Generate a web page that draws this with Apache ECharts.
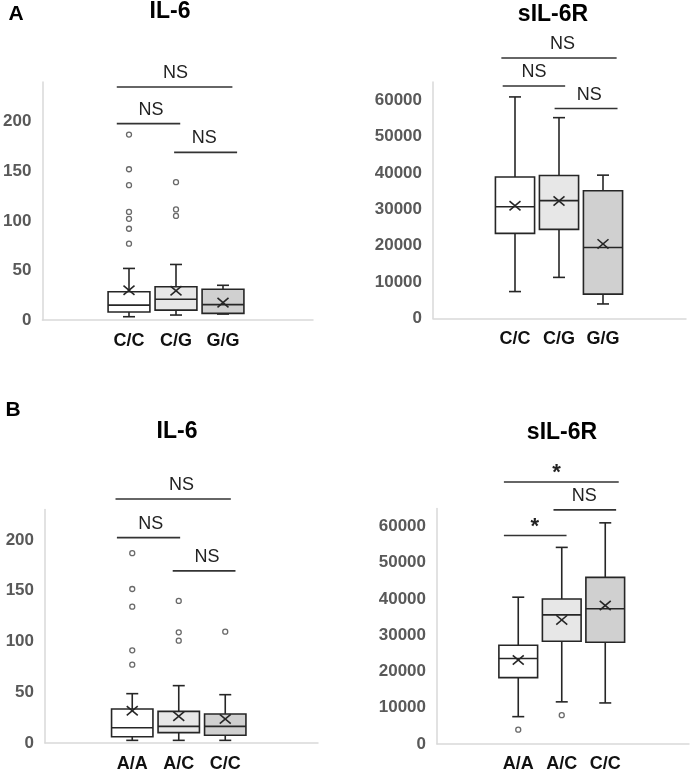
<!DOCTYPE html>
<html><head><meta charset="utf-8">
<script src="https://cdn.jsdelivr.net/npm/echarts@6/dist/echarts.min.js"></script>
<style>html,body{margin:0;padding:0;background:#fff}#c{width:692px;height:773px}</style>
</head><body><div id="c"></div>
<script>
// ---------- data ----------
const catsA = ['C/C', 'C/G', 'G/G'];
const catsB = ['A/A', 'A/C', 'C/C'];
// box rows: [lower whisker, Q1, median, Q3, upper whisker]
const aIl6Box = [[3.3, 8, 15, 28.5, 52], [5, 10, 21, 33.5, 56], [6, 6.7, 15.5, 31, 35]];
const aIl6Mean = [30, 29.5, 17.5];
const aIl6Out = [[0, 187], [0, 152], [0, 136], [0, 109], [0, 102], [0, 92], [0, 77], [1, 139], [1, 111.5], [1, 105]];
const aSilBox = [[7400, 23400, 30700, 38900, 60900], [11300, 24500, 32400, 39300, 55200], [4000, 6700, 19500, 35100, 39400]];
const aSilMean = [31000, 32300, 20500];
const aSilOut = [];
const bIl6Box = [[2.6, 6.2, 15, 33.5, 48.6], [2.6, 10.2, 16.4, 31.2, 56.5], [2.6, 7.6, 16.4, 28.6, 47.6]];
const bIl6Mean = [31.8, 26.3, 23.6];
const bIl6Out = [[0, 187], [0, 151.7], [0, 134.3], [0, 91.3], [0, 77.2], [1, 139.9], [1, 109], [1, 100.8], [2, 109.7]];
const bSilBox = [[7300, 18100, 23400, 27100, 40400], [11400, 28200, 35500, 39900, 54200], [11100, 27900, 37200, 45900, 61000]];
const bSilMean = [23000, 34100, 38100];
const bSilOut = [[0, 3700], [1, 7700]];
// significance brackets: [from (category units), to, level (data units), label position, label]
const aIl6Sig = [[-0.26, 2.2, 235, 0.99, 'NS'], [-0.26, 1.09, 198, 0.47, 'NS'], [0.96, 2.3, 169, 1.6, 'NS']];
const aSilSig = [[-0.31, 2.31, 71600, 1.08, 'NS'], [-0.28, 1.14, 63900, 0.43, 'NS'], [0.9, 2.33, 57700, 1.69, 'NS']];
const bIl6Sig = [[-0.36, 2.12, 240.4, 1.06, 'NS'], [-0.33, 1.03, 202.3, 0.40, 'NS'], [0.87, 2.22, 169.5, 1.61, 'NS']];
const bSilSig = [[-0.33, 2.31, 72300, 0.88, '*'], [0.81, 2.25, 64600, 1.52, 'NS'], [-0.33, 1.11, 57500, 0.38, '*']];
const titles = ['IL-6', 'sIL-6R', 'IL-6', 'sIL-6R'];
const panelLetters = ['A', 'B'];

// ---------- layout / style ----------
const FONT = '"Liberation Sans", Arial, sans-serif';
const fills = ['#ffffff', '#e7e7e7', '#d0d0d0'];
const panels = [
  { frame: { left: 42, top: 82, width: 271, height: 238 }, dataLeft: 105.5, dataWidth: 141, max: 240, interval: 50,
    cats: catsA, box: aIl6Box, mean: aIl6Mean, out: aIl6Out, sig: aIl6Sig, title: [170, 12] },
  { frame: { left: 433, top: 82, width: 253, height: 236.5 }, dataLeft: 493, dataWidth: 132, max: 65000, interval: 10000,
    cats: catsA, box: aSilBox, mean: aSilMean, out: aSilOut, sig: aSilSig, title: [553, 15] },
  { frame: { left: 45, top: 509.5, width: 273, height: 233.5 }, dataLeft: 109, dataWidth: 139.5, max: 230, interval: 50,
    cats: catsB, box: bIl6Box, mean: bIl6Mean, out: bIl6Out, sig: bIl6Sig, title: [177, 432] },
  { frame: { left: 437, top: 508.4, width: 252, height: 235.6 }, dataLeft: 496.5, dataWidth: 130.5, max: 65000, interval: 10000,
    cats: catsB, box: bSilBox, mean: bSilMean, out: bSilOut, sig: bSilSig, title: [562, 433] }
];
const letterPos = [[16, 14], [13, 410]];

const grid = [], xAxis = [], yAxis = [], series = [], graphic = [];

function boxRenderer(p) {
  return function (params, api) {
    const c = api.value(0);
    const lo = api.value(1), q1 = api.value(2), med = api.value(3), q3 = api.value(4), hi = api.value(5), mean = api.value(6);
    const band = api.size([1, 0])[0];
    const bw = band * 0.89, cap = 12, mx = 5.5;
    const pLo = api.coord([c, lo]), pQ1 = api.coord([c, q1]), pMed = api.coord([c, med]);
    const pQ3 = api.coord([c, q3]), pHi = api.coord([c, hi]), pMean = api.coord([c, mean]);
    const x = pLo[0];
    const st = { stroke: '#262626', lineWidth: 1.6, fill: null };
    const line = (x1, y1, x2, y2) => ({ type: 'line', shape: { x1, y1, x2, y2 }, style: st });
    return {
      type: 'group',
      children: [
        line(x, pHi[1], x, pQ3[1]),
        line(x - cap / 2, pHi[1], x + cap / 2, pHi[1]),
        line(x, pQ1[1], x, pLo[1]),
        line(x - cap / 2, pLo[1], x + cap / 2, pLo[1]),
        { type: 'rect', shape: { x: x - bw / 2, y: pQ3[1], width: bw, height: pQ1[1] - pQ3[1] },
          style: { fill: fills[params.dataIndex], stroke: '#262626', lineWidth: 1.6 } },
        line(x - bw / 2, pMed[1], x + bw / 2, pMed[1]),
        line(x - mx, pMean[1] - mx * 0.85, x + mx, pMean[1] + mx * 0.85),
        line(x - mx, pMean[1] + mx * 0.85, x + mx, pMean[1] - mx * 0.85)
      ]
    };
  };
}

function sigRenderer(sig) {
  return function (params, api) {
    const s = sig[params.dataIndex];
    const a = api.coord([0, s[2]]), b = api.coord([1, s[2]]);
    const step = b[0] - a[0];
    const xf = f => a[0] + f * step;
    const y = a[1];
    const star = s[4] === '*';
    return {
      type: 'group',
      children: [
        { type: 'line', shape: { x1: xf(s[0]), y1: y, x2: xf(s[1]), y2: y }, style: { stroke: '#333', lineWidth: 1.6 } },
        { type: 'text', x: xf(s[3]), y: star ? y - 9 : y - 14,
          style: { text: s[4], fill: '#222', align: 'center', verticalAlign: 'middle',
            font: (star ? 'bold 22px ' : '18px ') + FONT } }
      ]
    };
  };
}

panels.forEach((p, i) => {
  const gf = 2 * i, gd = 2 * i + 1;
  grid.push({ left: p.frame.left, top: p.frame.top, width: p.frame.width, height: p.frame.height });
  grid.push({ left: p.dataLeft, top: p.frame.top, width: p.dataWidth, height: p.frame.height });
  xAxis.push({ type: 'value', gridIndex: gf, min: 0, max: 1,
    axisLine: { show: true, onZero: false, lineStyle: { color: '#d9d9d9', width: 1.5 } },
    axisTick: { show: false }, axisLabel: { show: false }, splitLine: { show: false } });
  xAxis.push({ type: 'category', gridIndex: gd, data: p.cats,
    axisLine: { show: false }, axisTick: { show: false }, splitLine: { show: false },
    axisLabel: { margin: 12, fontFamily: FONT, fontWeight: 'bold', fontSize: 18, color: '#111' } });
  yAxis.push({ type: 'value', gridIndex: gf, min: 0, max: p.max, interval: p.interval,
    axisLine: { show: true, lineStyle: { color: '#d9d9d9', width: 1.5 } },
    axisTick: { show: false }, splitLine: { show: false },
    axisLabel: { margin: 11, fontFamily: FONT, fontWeight: 'bold', fontSize: 17, color: '#595959',
      formatter: v => (v % p.interval === 0 ? String(v) : '') } });
  yAxis.push({ type: 'value', gridIndex: gd, min: 0, max: p.max, show: false, splitLine: { show: false } });

  series.push({ type: 'custom', xAxisIndex: gd, yAxisIndex: gd, clip: false, z: 2,
    data: p.box.map((b, k) => [k, b[0], b[1], b[2], b[3], b[4], p.mean[k]]),
    encode: { x: 0, y: [1, 2, 3, 4, 5] },
    renderItem: boxRenderer(p), silent: true });
  series.push({ type: 'scatter', xAxisIndex: gd, yAxisIndex: gd, z: 3, data: p.out,
    symbol: 'circle', symbolSize: 5, silent: true,
    itemStyle: { color: '#ffffff', borderColor: '#444', borderWidth: 1.3 } });
  series.push({ type: 'custom', xAxisIndex: gd, yAxisIndex: gd, clip: false, z: 4,
    data: p.sig.map(s => [s[0], s[2]]), encode: { x: 0, y: 1 },
    renderItem: sigRenderer(p.sig), silent: true });

  graphic.push({ type: 'text', x: p.title[0], y: p.title[1],
    style: { text: titles[i], font: 'bold 23px ' + FONT, fill: '#000', align: 'center', verticalAlign: 'middle',
      textAlign: 'center', textVerticalAlign: 'middle' } });
});
panelLetters.forEach((t, i) => {
  graphic.push({ type: 'text', x: letterPos[i][0], y: letterPos[i][1],
    style: { text: t, font: 'bold 21px ' + FONT, fill: '#000', align: 'center', verticalAlign: 'middle',
      textAlign: 'center', textVerticalAlign: 'middle' } });
});

const chart = echarts.init(document.getElementById('c'), null, { renderer: 'canvas' });
chart.setOption({ animation: false, backgroundColor: '#fff', grid, xAxis, yAxis, series, graphic });
</script></body></html>
